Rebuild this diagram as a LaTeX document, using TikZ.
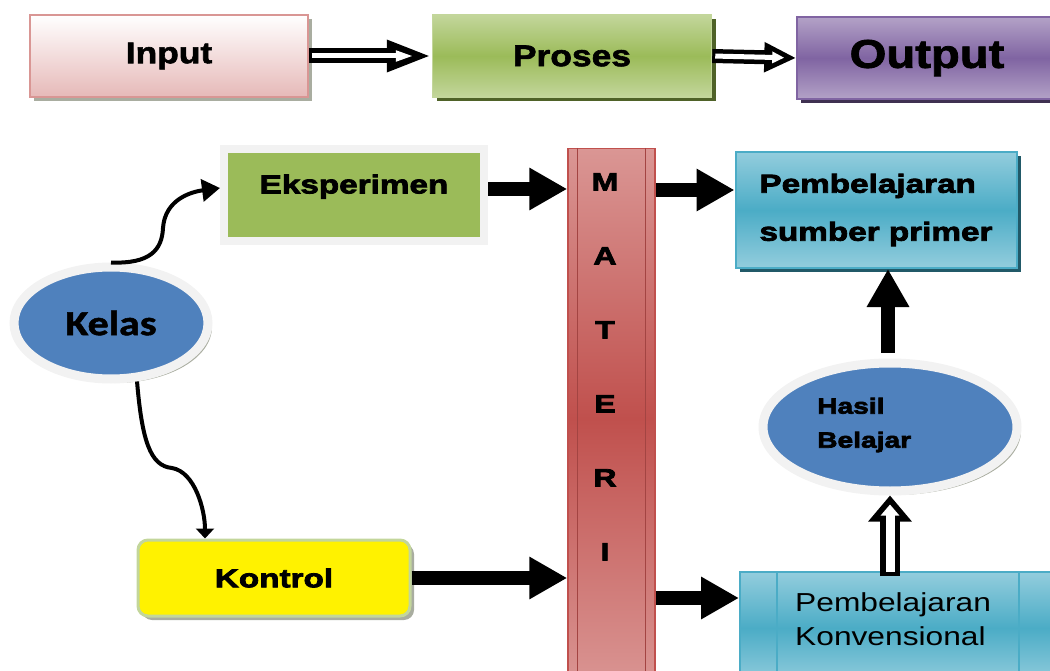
\documentclass[tikz,border=0pt]{standalone}
\usepackage{fontspec}
\setmainfont{Liberation Sans}[FakeStretch=1.22]
\newfontfamily\boldfont{Liberation Sans}[FakeStretch=1.18,FakeBold=2]
\newfontfamily\heavyfont{Liberation Sans}[FakeStretch=1.28,FakeBold=3]
\newfontfamily\kelasfont{Carlito}[FakeStretch=1.2,FakeBold=1.5]
\usetikzlibrary{arrows.meta,positioning,shapes.geometric,shadows}

\definecolor{pinkfill}{HTML}{E6B9B8}
\definecolor{pinkline}{HTML}{D99694}
\definecolor{greenlight}{HTML}{C3D69B}
\definecolor{greenmid}{HTML}{9BBB59}
\definecolor{greendark}{HTML}{4F6228}
\definecolor{purplelight}{HTML}{B3A2C7}
\definecolor{purplemid}{HTML}{8064A2}
\definecolor{purpledark}{HTML}{3F3151}
\definecolor{redlight}{HTML}{DA9694}
\definecolor{redmid}{HTML}{C0504D}
\definecolor{teallight}{HTML}{93CDDD}
\definecolor{tealmid}{HTML}{4BACC6}
\definecolor{tealdark}{HTML}{215968}
\definecolor{ovalblue}{HTML}{4F81BD}
\definecolor{rim}{HTML}{F2F2F2}
\definecolor{hatch}{HTML}{A9ADA0}

\begin{document}
\begin{tikzpicture}[x=1pt, y=-1pt,
  block/.style={rectangle, draw, line width=1.5pt, inner sep=0pt},
  shade/.style={drop shadow={shadow xshift=4pt, shadow yshift=-4pt, fill=#1, opacity=1}},
  oval/.style={ellipse, draw=rim, line width=9pt, fill=ovalblue, inner sep=0pt, shade=hatch},
  heavy/.style={font={\fontsize{#1}{#1}\selectfont\heavyfont\bfseries}},
  fat/.style={line width=14pt, -{Triangle[length=38pt, width=40pt]}},
  curve/.style={line width=4pt, -{Triangle[length=18pt, width=22pt]}}
]
\useasboundingbox (0,0) rectangle (1050,671);

% top row
\node[block, draw=pinkline, top color=white, bottom color=pinkfill, minimum width=278pt, minimum height=82pt, shade=hatch,
  font={\fontsize{30}{36}\selectfont\boldfont\bfseries}] (input) at (169,56) {Input};
\node[block, draw=greenlight, top color=greenlight, bottom color=greenlight, middle color=greenmid, minimum width=279pt, minimum height=82pt, shade=greendark,
  font={\fontsize{30}{36}\selectfont\boldfont\bfseries}] (proses) at (572,56) {Proses};
\node[block, draw=purplemid, top color=purplelight, bottom color=purplelight, middle color=purplemid, minimum width=260pt, minimum height=82pt, shade=purpledark,
  font={\fontsize{40}{44}\selectfont\boldfont\bfseries}] (output) at (927,58) {Output};

% kelas and groups
\node[oval, minimum width=194pt, minimum height=112pt, font={\fontsize{35}{36}\selectfont\kelasfont\bfseries}] (kelas) at (111,323) {Kelas};
\node[block, draw=rim, line width=8pt, fill=greenmid, minimum width=260pt, minimum height=92pt, shade=hatch,
  heavy=26, text depth=22pt] (eksperimen) at (354,195) {Eksperimen};
\node[block, draw=greenlight, line width=3pt, fill=yellow, rounded corners=10pt, minimum width=272pt, minimum height=76pt, shade=hatch,
  heavy=26] (kontrol) at (274,578) {Kontrol};

% materi
\node[block, draw=redmid, top color=redlight, bottom color=redlight, middle color=redmid, minimum width=87pt, minimum height=540pt,
  anchor=north] (materi) at (611.5,148) {};
\draw[redmid!85!black, line width=0.8pt] ([xshift=10pt]materi.north west) -- ([xshift=10pt]materi.south west);
\draw[redmid!85!black, line width=0.8pt] ([xshift=-10pt]materi.north east) -- ([xshift=-10pt]materi.south east);
\node[font={\fontsize{25}{74}\selectfont\heavyfont\bfseries}, align=center, anchor=north, inner sep=0pt] (letters) at (605,173) {M\\A\\T\\E\\R\\I};

% outcomes
\node[block, draw=tealmid, line width=2pt, top color=teallight, bottom color=teallight, middle color=tealmid, minimum width=281pt, minimum height=116pt, shade=tealdark,
  font={\fontsize{26}{48}\selectfont\heavyfont\bfseries}, align=left] (primer) at (876,210) {Pembelajaran\\sumber primer};
\node[oval, minimum width=254pt, minimum height=128pt] (hasil) at (890,427) {};
\node[font={\fontsize{22}{34}\selectfont\heavyfont\bfseries}, align=left, anchor=west, inner sep=0pt] (hasiltxt) at (817,425) {Hasil\\Belajar};
\node[block, draw=tealmid, line width=2pt, top color=teallight, bottom color=teallight, middle color=tealmid, minimum width=316pt, minimum height=112pt] (konv) at (898,628) {};
\draw[tealmid, line width=2pt] ([xshift=38pt]konv.north west) -- ([xshift=38pt]konv.south west);
\draw[tealmid, line width=2pt] ([xshift=-38pt]konv.north east) -- ([xshift=-38pt]konv.south east);
\node[font={\fontsize{26}{34}\selectfont}, align=left, anchor=west, inner sep=0pt] (konvtxt) at (795,619) {Pembelajaran\\Konvensional};

% hollow arrows
\draw[line width=15pt, -{Triangle[length=45pt, width=29pt]}] (input.east) -- (proses.west);
\draw[white, line width=5pt, shorten <=3pt, shorten >=18pt, -{Triangle[length=18pt, width=10pt]}] (input.east) -- (proses.west);
\draw[line width=14pt, -{Triangle[length=32pt, width=28pt]}] (proses.east) -- (output.west);
\draw[white, line width=5pt, shorten <=3pt, shorten >=12pt, -{Triangle[length=12pt, width=11pt]}] (proses.east) -- (output.west);
\coordinate (konvout) at ([yshift=-5pt]hasil.south |- konv.north);
\draw[line width=20pt, -{Triangle[length=26pt, width=42pt]}] (konvout) -- (hasil.south);
\draw[white, line width=9pt, shorten <=4pt, shorten >=9pt, -{Triangle[length=11pt, width=18pt]}] (konvout) -- (hasil.south);

% curved arrows
\draw[curve] (kelas.north) .. controls (150,264) and (162,250) .. (163,228) .. controls (165,200) and (190,192) .. (eksperimen.west |- 0,188);
\draw[curve, -{Triangle[length=10pt, width=18pt]}] (kelas.-66) .. controls (142,440) and (150,466) .. (172,468) .. controls (195,472) and (205,510) .. (kontrol.north -| 205,0);

% solid arrows
\coordinate (ekspout) at ([yshift=6pt]eksperimen.east);
\draw[fat] (ekspout) -- (ekspout -| materi.west);
\coordinate (primerin) at ([yshift=20pt]primer.west);
\draw[fat] (primerin -| materi.east) -- (primerin);
\draw[fat] (kontrol.east) -- (kontrol.east -| materi.west);
\coordinate (konvin) at ([yshift=30pt]konv.west);
\draw[fat] (konvin -| materi.east) -- (konvin);
\draw[fat, shorten <=6pt] (hasil.north -| 888,0) -- (primer.south -| 888,0);
\end{tikzpicture}
\end{document}
